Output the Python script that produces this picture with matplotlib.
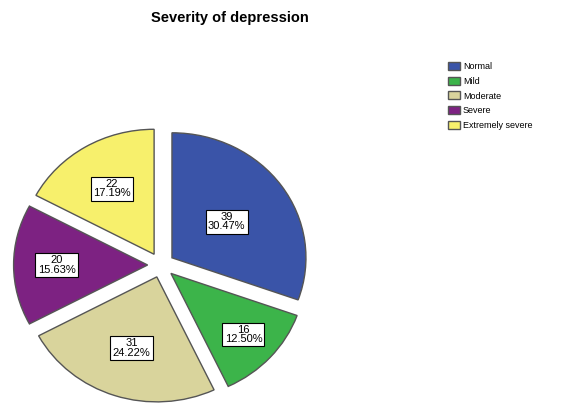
import matplotlib
matplotlib.use("Agg")
import matplotlib.pyplot as plt
from matplotlib.patches import Patch
import numpy as np

categories = ["Normal", "Mild", "Moderate", "Severe", "Extremely severe"]
counts = [39, 16, 31, 20, 22]
percents = ["30.47%", "12.50%", "24.22%", "15.63%", "17.19%"]
colors = ["#3a54a8", "#3cb44a", "#d9d49c", "#7d2282", "#f7f06c"]
label_r = [0.60, 0.83, 0.70, 0.78, 0.71]

plt.rcParams['font.family'] = ['Liberation Sans', 'DejaVu Sans']

fig = plt.figure(figsize=(5.62, 4.04), dpi=100)
W, H = 562, 404
cx, cy = 161, 265
rx, ry = 134, 125
lim = 1.15
w_px, h_px = 2 * lim * rx, 2 * lim * ry
ax = fig.add_axes([(cx - w_px/2)/W, (H - cy - h_px/2)/H, w_px/W, h_px/H])

wedges, _ = ax.pie(counts, colors=colors, startangle=90, counterclock=False,
                   explode=[0.1]*len(counts),
                   wedgeprops=dict(edgecolor="#555555", linewidth=1.0))
ax.set_xlim(-lim, lim)
ax.set_ylim(-lim, lim)
ax.set_aspect('auto')
ax.axis('off')

for w, c, p, r in zip(wedges, counts, percents, label_r):
    ang = np.deg2rad((w.theta1 + w.theta2) / 2)
    ax.text(r*np.cos(ang), r*np.sin(ang), f"{c}\n{p}", ha='center', va='center',
            fontsize=8, linespacing=0.9,
            bbox=dict(boxstyle='square,pad=0.2', facecolor='white', edgecolor='black', linewidth=0.8))

fig.text(230/W, 1 - 18/H, "Severity of depression", ha='center', va='center',
         fontsize=10.5, fontweight='bold')

handles = [Patch(facecolor=col, edgecolor="#555555", label=lab) for col, lab in zip(colors, categories)]
fig.legend(handles=handles, loc='upper left', bbox_to_anchor=(442/W, 1 - 56/H),
           frameon=False, fontsize=6.5, handlelength=1.3, handleheight=1.0,
           handletextpad=0.3, labelspacing=0.6, borderpad=0.2)

fig.savefig("out.png", dpi=100)
